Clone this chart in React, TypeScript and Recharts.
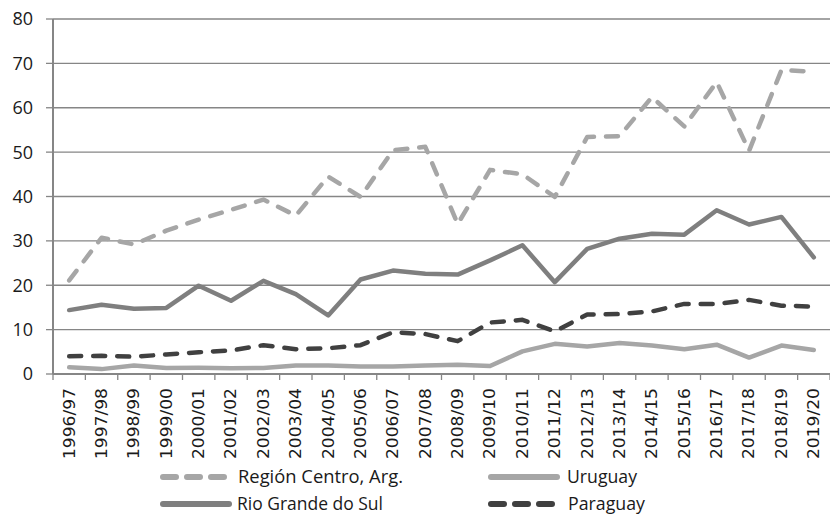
import React from 'react';
import { LineChart, Line, XAxis, YAxis, CartesianGrid, Legend } from 'recharts';

const categories = [
  '1996/97', '1997/98', '1998/99', '1999/00', '2000/01', '2001/02', '2002/03', '2003/04',
  '2004/05', '2005/06', '2006/07', '2007/08', '2008/09', '2009/10', '2010/11', '2011/12',
  '2012/13', '2013/14', '2014/15', '2015/16', '2016/17', '2017/18', '2018/19', '2019/20',
];

const regionCentro = [
  21.1, 30.7, 29.2, 32.3, 34.8, 37.0, 39.3, 35.7, 44.5, 39.9, 50.4, 51.2,
  33.8, 46.0, 45.0, 39.9, 53.4, 53.6, 62.4, 55.8, 65.8, 50.3, 68.5, 68.1,
];
const uruguay = [
  1.5, 1.1, 1.9, 1.35, 1.4, 1.3, 1.35, 1.9, 1.9, 1.7, 1.7, 1.9,
  2.1, 1.8, 5.1, 6.8, 6.2, 7.0, 6.4, 5.6, 6.6, 3.7, 6.4, 5.4,
];
const rioGrande = [
  14.4, 15.6, 14.7, 14.9, 19.9, 16.5, 21.0, 18.0, 13.2, 21.3, 23.3, 22.6,
  22.4, 25.6, 29.0, 20.7, 28.2, 30.5, 31.6, 31.4, 36.9, 33.7, 35.4, 26.3,
];
const paraguay = [
  4.0, 4.1, 3.9, 4.4, 4.9, 5.3, 6.5, 5.6, 5.8, 6.5, 9.4, 9.0,
  7.4, 11.6, 12.2, 9.6, 13.4, 13.5, 14.1, 15.8, 15.8, 16.7, 15.4, 15.2,
];
const yTicks = [0, 10, 20, 30, 40, 50, 60, 70, 80];

const data = categories.map((season, i) => ({
  season,
  region: regionCentro[i],
  uruguay: uruguay[i],
  rio: rioGrande[i],
  paraguay: paraguay[i],
}));

const W = 830;
const H = 514;
const Y_AXIS_W = 53;
const PLOT_W = W - Y_AXIS_W;
const AXIS_COLOR = '#868686';
const TEXT_COLOR = '#1a1a1a';

const series = [
  { key: 'region', name: 'Región Centro, Arg.', color: '#a6a6a6', dashed: true },
  { key: 'uruguay', name: 'Uruguay', color: '#a6a6a6', dashed: false },
  { key: 'rio', name: 'Rio Grande do Sul', color: '#7f7f7f', dashed: false },
  { key: 'paraguay', name: 'Paraguay', color: '#404040', dashed: true },
];

// legend slots: icon start/end, text start and text width, row centre
const legendSlots = [
  { x1: 160, x2: 227, tx: 238, tw: 165, cy: 17 },
  { x1: 488, x2: 560, tx: 567, tw: 70, cy: 17 },
  { x1: 160, x2: 232, tx: 237, tw: 146, cy: 44 },
  { x1: 488, x2: 557, tx: 568, tw: 77, cy: 44 },
];

const CategoryTick = (props: any) => {
  const { x, y, payload, index } = props;
  const band = PLOT_W / categories.length;
  const last = index === categories.length - 1;
  return (
    <g>
      <line x1={x - band / 2} x2={x - band / 2} y1={y} y2={y + 6} stroke={AXIS_COLOR} strokeWidth={1.3} />
      {last && <line x1={x + band / 2} x2={x + band / 2} y1={y} y2={y + 6} stroke={AXIS_COLOR} strokeWidth={1.3} />}
      <text
        x={x}
        y={y + 14}
        transform={`rotate(-90, ${x}, ${y + 14})`}
        textAnchor="end"
        dy="0.36em"
        fontFamily="'DejaVu Sans', sans-serif"
        fontSize={15}
        fill={TEXT_COLOR}
        textLength={71}
        lengthAdjust="spacingAndGlyphs"
      >
        {payload.value}
      </text>
    </g>
  );
};

const renderLegend = () => (
  <svg width={W} height={54} style={{ display: 'block' }}>
    {series.map((s, i) => {
      const slot = legendSlots[i];
      return (
        <g key={s.key}>
          <line
            x1={slot.x1 + 3}
            x2={slot.x2 - 3}
            y1={slot.cy}
            y2={slot.cy}
            stroke={s.color}
            strokeWidth={6}
            strokeLinecap="round"
            strokeDasharray={s.dashed ? '13 11' : undefined}
          />
          <text
            x={slot.tx}
            y={slot.cy}
            dy="0.36em"
            fontFamily="'Open Sans', sans-serif"
            fontSize={18}
            fill={TEXT_COLOR}
            textLength={slot.tw}
            lengthAdjust="spacingAndGlyphs"
          >
            {s.name}
          </text>
        </g>
      );
    })}
  </svg>
);

export default function App() {
  return (
    <div style={{ width: W, height: H, background: '#fff' }}>
      <style>{'body{margin:0;}'}</style>
      <LineChart width={W} height={H} data={data} margin={{ top: 19, right: 0, bottom: 0, left: 0 }}>
        <CartesianGrid vertical={false} stroke={AXIS_COLOR} strokeWidth={1.3} />
        <XAxis
          dataKey="season"
          scale="band"
          interval={0}
          tickLine={false}
          tickSize={0}
          tickMargin={0}
          height={86}
          axisLine={{ stroke: AXIS_COLOR, strokeWidth: 2 }}
          tick={<CategoryTick />}
        />
        <YAxis
          width={Y_AXIS_W}
          domain={[0, 80]}
          ticks={yTicks}
          interval={0}
          tickSize={7}
          tickMargin={13}
          tickLine={{ stroke: AXIS_COLOR, strokeWidth: 1.3 }}
          axisLine={{ stroke: AXIS_COLOR, strokeWidth: 2 }}
          tick={{ fill: TEXT_COLOR, fontSize: 18, fontFamily: "'Open Sans', sans-serif" }}
        />
        <Legend
          verticalAlign="bottom"
          height={54}
          content={renderLegend}
          wrapperStyle={{ left: 0, bottom: 0, width: W, height: 54 }}
        />
        {series.map((s) => (
          <Line
            key={s.key}
            dataKey={s.key}
            name={s.name}
            stroke={s.color}
            strokeWidth={4.5}
            strokeLinecap="round"
            strokeLinejoin="round"
            strokeDasharray={s.dashed ? '12 12' : undefined}
            dot={false}
            activeDot={false}
            isAnimationActive={false}
          />
        ))}
      </LineChart>
    </div>
  );
}
